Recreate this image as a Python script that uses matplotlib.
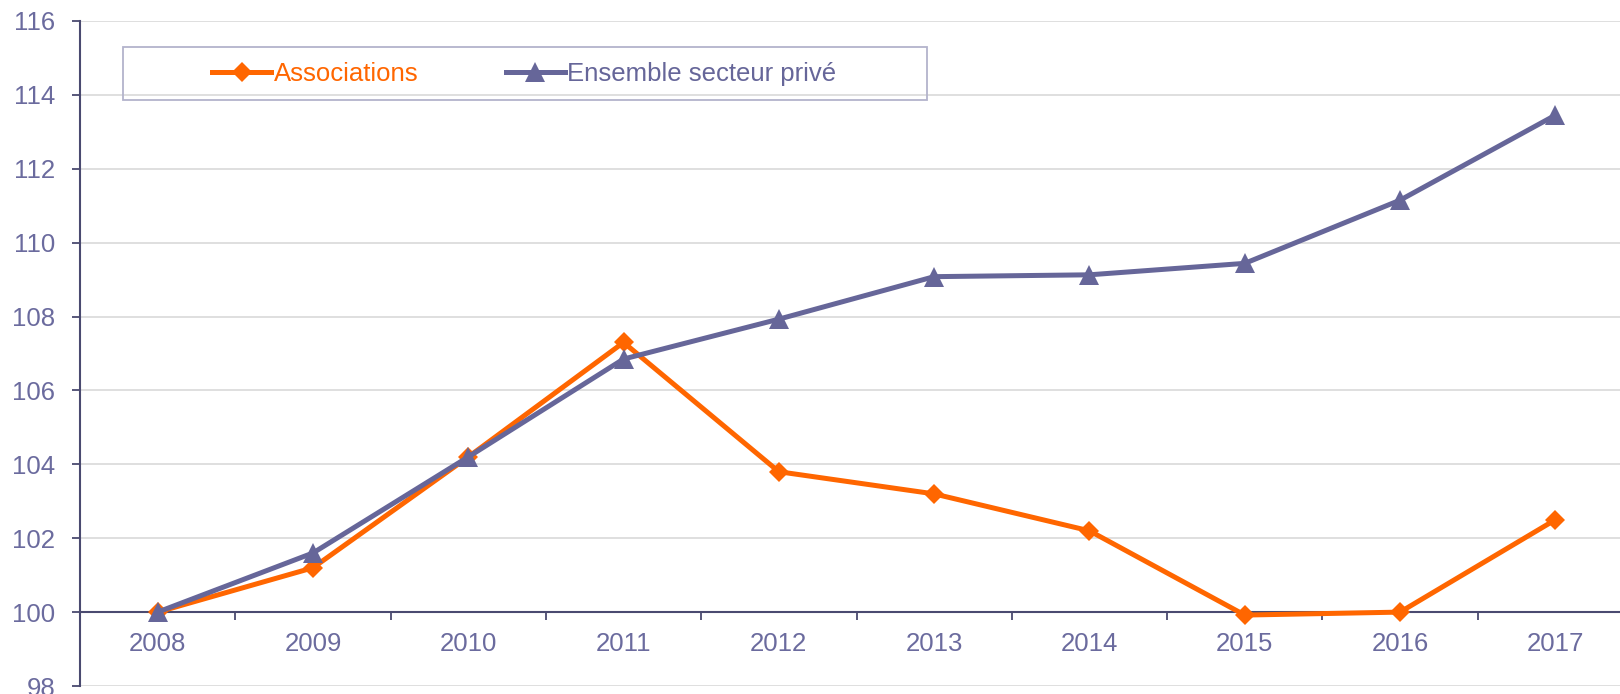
import matplotlib
matplotlib.use("Agg")
import matplotlib.pyplot as plt
from matplotlib.patches import Rectangle
import numpy as np

years = ["2008", "2009", "2010", "2011", "2012", "2013", "2014", "2015", "2016", "2017"]
associations = [100.0, 101.2, 104.2, 107.3, 103.8, 103.2, 102.2, 99.92, 100.0, 102.5]
ensemble = [100.0, 101.6, 104.2, 106.85, 107.93, 109.08, 109.13, 109.44, 111.15, 113.45]
yticks = [98, 100, 102, 104, 106, 108, 110, 112, 114, 116]

ORANGE = "#FF6600"
PURPLE = "#666699"
TEXT = "#6B6B9E"
SPINE = "#4A4A70"
GRID = "#D9D9D9"

plt.rcParams['font.family'] = ['Liberation Sans', 'DejaVu Sans']

W, H = 1620, 694
fig = plt.figure(figsize=(W / 100, H / 100), dpi=100)
left, right = 80, 1633
top, bottom = 21, 686
ax = fig.add_axes([left / W, 1 - bottom / H, (right - left) / W, (bottom - top) / H])

x = np.arange(len(years))
ax.plot(x, associations, color=ORANGE, lw=3.6, marker='D', markersize=10,
        markeredgewidth=0, label="Associations", zorder=3, solid_joinstyle='round')
ax.plot(x, ensemble, color=PURPLE, lw=3.6, marker='^', markersize=14,
        markeredgewidth=0, label="Ensemble secteur privé", zorder=4, solid_joinstyle='round')

ax.set_xlim(-0.5, len(years) - 0.5)
ax.set_ylim(98, 116)
ax.set_yticks(yticks)
ax.set_yticklabels([str(v) for v in yticks])
ax.yaxis.grid(True, color=GRID, lw=1.2, zorder=0)
ax.set_axisbelow(True)

for s in ['top', 'right']:
    ax.spines[s].set_visible(False)
ax.spines['bottom'].set_position(('data', 100))
ax.spines['bottom'].set_color(SPINE)
ax.spines['bottom'].set_linewidth(1.5)
ax.spines['left'].set_color(SPINE)
ax.spines['left'].set_linewidth(1.5)

ax.set_xticks(x)
ax.set_xticklabels(years)
ax.set_xticks(np.arange(0.5, len(years) - 0.5, 1.0), minor=True)
ax.tick_params(axis='x', which='major', length=0, pad=14, labelsize=18.5, labelcolor=TEXT)
ax.tick_params(axis='x', which='minor', length=6, width=1.3, direction='out', color=SPINE)
ax.tick_params(axis='y', which='major', length=6, width=1.3, direction='out', color=SPINE,
               pad=12, labelsize=18.5, labelcolor=TEXT)

leg = ax.legend(loc='center left', bbox_to_anchor=(212 / W, 1 - 74 / H),
                bbox_transform=fig.transFigure, ncol=2, frameon=False,
                fontsize=18.5, handlelength=2.3, handletextpad=0.1,
                columnspacing=3.4, borderpad=0, borderaxespad=0)
for t, c in zip(leg.get_texts(), [ORANGE, PURPLE]):
    t.set_color(c)

fig.patches.append(Rectangle((123 / W, 1 - 100 / H), (927 - 123) / W, 52.5 / H,
                             transform=fig.transFigure, fill=False,
                             edgecolor="#B3B3CC", lw=1.3))

fig.savefig("out.png", dpi=100)
